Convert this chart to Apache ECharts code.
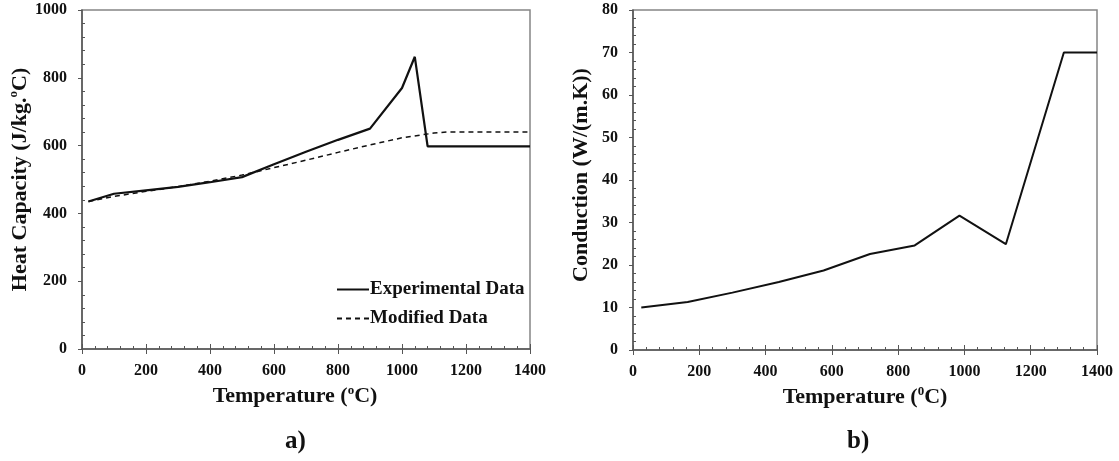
<!DOCTYPE html>
<html>
<head>
<meta charset="utf-8">
<script src="https://cdn.jsdelivr.net/npm/echarts@6/dist/echarts.min.js"></script>
<style>
html,body{margin:0;padding:0;background:#fff;}
#c{width:1119px;height:461px;}
</style>
</head>
<body>
<div id="c"></div>
<script>
// Panel a) heat capacity
const tempExp = [20, 100, 200, 300, 400, 500, 600, 700, 800, 900, 1000, 1040, 1080, 1400];
const heatExp = [435, 458, 468, 478, 492, 507, 545, 582, 617, 650, 770, 862, 598, 598];
const tempMod = [20, 100, 200, 300, 400, 500, 600, 700, 800, 900, 1000, 1100, 1140, 1400];
const heatMod = [435, 450, 465, 479, 495, 513, 535, 557, 580, 602, 623, 637, 640, 640];
// Panel b) conduction
const tempCond = [25, 165, 300, 440, 575, 715, 850, 985, 1125, 1300, 1400];
const condVals = [10, 11.3, 13.5, 16.0, 18.7, 22.6, 24.6, 31.6, 24.9, 70, 70];
// names
const seriesNames = ['Experimental Data', 'Modified Data'];
const panelLabels = ['a)', 'b)'];

const FONT = "'Liberation Serif', 'Times New Roman', serif";
const AX = '#555';
const pairs = (xs, ys) => xs.map((x, i) => [x, ys[i]]);

function mainAxis(grid, min, max, interval, tickLen, name, nameGap, namePad, rich, dim) {
  return {
    type: 'value', gridIndex: grid, min: min, max: max, interval: interval,
    position: dim === 'x' ? 'bottom' : 'left',
    axisLine: {show: true, lineStyle: {color: AX, width: 1.5}},
    axisTick: {show: true, inside: false, length: tickLen, lineStyle: {color: AX, width: 1}},
    minorTick: {show: false},
    splitLine: {show: false},
    axisLabel: {color: '#111', fontFamily: FONT, fontWeight: 'bold', fontSize: 16,
                margin: dim === 'x' ? 14 : 15, formatter: v => String(v)},
    name: name, nameLocation: 'middle', nameGap: nameGap,
    nameTextStyle: {color: '#111', fontFamily: FONT, fontWeight: 'bold', fontSize: 22, padding: namePad, rich: rich}
  };
}
function overlayAxis(grid, min, max, interval, majorInside, dim) {
  return {
    type: 'value', gridIndex: grid, min: min, max: max, interval: interval,
    position: dim === 'x' ? 'bottom' : 'left',
    axisLine: {show: false},
    axisTick: {show: majorInside, inside: true, length: 5, lineStyle: {color: AX, width: 1}},
    minorTick: {show: true, splitNumber: 5, length: 3, lineStyle: {color: AX, width: 1}},
    splitLine: {show: false},
    axisLabel: {show: false}
  };
}
const richBase = {
  t: {fontFamily: FONT, fontWeight: 'bold', fontSize: 22, color: '#111', lineHeight: 25},
  s: {fontFamily: FONT, fontWeight: 'bold', fontSize: 13, color: '#111', verticalAlign: 'top', lineHeight: 25}
};

const option = {
  backgroundColor: '#fff',
  animation: false,
  grid: [
    {left: 82, top: 10, width: 448, height: 339, show: true, borderColor: '#858585', borderWidth: 1.5},
    {left: 633, top: 10, width: 464, height: 340, show: true, borderColor: '#858585', borderWidth: 1.5}
  ],
  xAxis: [
    mainAxis(0, 0, 1400, 200, 5, '{t|Temperature (}{s|o}{t|C)}', 31, [0, 22, 0, 0], richBase, 'x'),
    overlayAxis(0, 0, 1400, 200, true, 'x'),
    mainAxis(1, 0, 1400, 200, 5, '{t|Temperature (}{s|0}{t|C)}', 31, [0, 0, 0, 0], richBase, 'x'),
    overlayAxis(1, 0, 1400, 200, true, 'x')
  ],
  yAxis: [
    mainAxis(0, 0, 1000, 200, 4, '{t|Heat Capacity (J/kg.}{s|o}{t|C)}', 47, [0, 0, 0, 0], richBase, 'y'),
    overlayAxis(0, 0, 1000, 200, false, 'y'),
    mainAxis(1, 0, 80, 10, 4, '{t|Conduction (W/(m.K))}', 39, [0, 0, 0, 10], richBase, 'y'),
    overlayAxis(1, 0, 80, 10, false, 'y')
  ],
  legend: {
    left: 331, top: 275, orient: 'vertical', itemWidth: 32, itemHeight: 14, itemGap: 10,
    data: seriesNames,
    itemStyle: {opacity: 0},
    textStyle: {color: '#111', fontFamily: FONT, fontWeight: 'bold', fontSize: 19, padding: [0, 0, 0, -4]}
  },
  series: [
    {name: seriesNames[0], type: 'line', xAxisIndex: 0, yAxisIndex: 0, symbol: 'none',
     data: pairs(tempExp, heatExp), lineStyle: {color: '#111', width: 2.2}, itemStyle: {color: '#111'}},
    {name: seriesNames[1], type: 'line', xAxisIndex: 0, yAxisIndex: 0, symbol: 'none',
     data: pairs(tempMod, heatMod), lineStyle: {color: '#111', width: 1.5, type: [5, 4]}, itemStyle: {color: '#111'}},
    {name: 'Conduction', type: 'line', xAxisIndex: 2, yAxisIndex: 2, symbol: 'none',
     data: pairs(tempCond, condVals), lineStyle: {color: '#111', width: 2}, itemStyle: {color: '#111'}}
  ],
  graphic: [
    {type: 'text', left: 285, top: 429, style: {text: panelLabels[0], fill: '#111', font: 'bold 25px ' + FONT}},
    {type: 'text', left: 847, top: 429, style: {text: panelLabels[1], fill: '#111', font: 'bold 25px ' + FONT}}
  ]
};
const chart = echarts.init(document.getElementById('c'), null, {renderer: 'canvas'});
chart.setOption(option);
</script>
</body>
</html>
